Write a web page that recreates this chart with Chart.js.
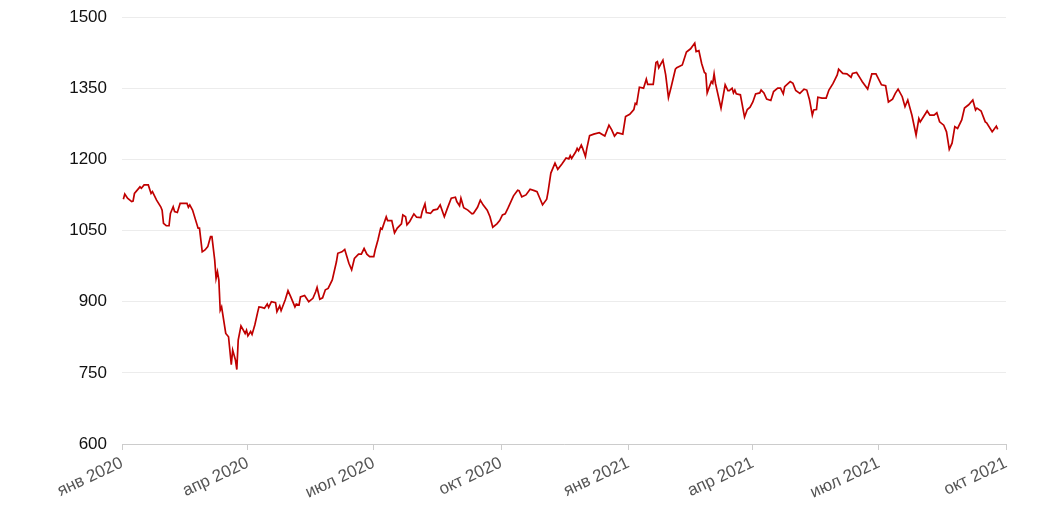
<!DOCTYPE html>
<html>
<head>
<meta charset="utf-8">
<script src="https://cdn.jsdelivr.net/npm/chart.js@4.4.0/dist/chart.umd.min.js"></script>
<style>
  body { margin: 0; background: #fff; }
</style>
</head>
<body>
<canvas id="chart" width="1050" height="517"></canvas>
<script>
// Index values (dates and closing values)
const dates = [
  '2020-01-02','2020-01-03','2020-01-05','2020-01-08','2020-01-09','2020-01-10','2020-01-14','2020-01-15','2020-01-17','2020-01-20',
  '2020-01-22','2020-01-23','2020-01-26','2020-01-29','2020-01-30','2020-01-31','2020-02-02','2020-02-04','2020-02-05','2020-02-07',
  '2020-02-08','2020-02-10','2020-02-12','2020-02-17','2020-02-18','2020-02-19','2020-02-21','2020-02-25','2020-02-26','2020-02-28',
  '2020-03-01','2020-03-03','2020-03-05','2020-03-06','2020-03-08','2020-03-09','2020-03-10','2020-03-11','2020-03-12','2020-03-13',
  '2020-03-16','2020-03-18','2020-03-20','2020-03-21','2020-03-23','2020-03-24','2020-03-25','2020-03-27','2020-03-30','2020-03-31',
  '2020-04-01','2020-04-03','2020-04-04','2020-04-06','2020-04-08','2020-04-09','2020-04-11','2020-04-13','2020-04-15','2020-04-16',
  '2020-04-18','2020-04-21','2020-04-22','2020-04-24','2020-04-25','2020-04-28','2020-04-30','2020-05-02','2020-05-05','2020-05-06',
  '2020-05-08','2020-05-09','2020-05-12','2020-05-15','2020-05-18','2020-05-20','2020-05-21','2020-05-23','2020-05-25','2020-05-27',
  '2020-05-29','2020-06-01','2020-06-04','2020-06-05','2020-06-08','2020-06-10','2020-06-13','2020-06-15','2020-06-17','2020-06-20',
  '2020-06-22','2020-06-24','2020-06-26','2020-06-28','2020-07-01','2020-07-02','2020-07-04','2020-07-06','2020-07-07','2020-07-10',
  '2020-07-11','2020-07-14','2020-07-16','2020-07-18','2020-07-21','2020-07-22','2020-07-24','2020-07-25','2020-07-27','2020-07-30',
  '2020-08-01','2020-08-04','2020-08-05','2020-08-07','2020-08-08','2020-08-11','2020-08-13','2020-08-16','2020-08-18','2020-08-21',
  '2020-08-23','2020-08-26','2020-08-29','2020-08-30','2020-09-01','2020-09-02','2020-09-04','2020-09-07','2020-09-10','2020-09-11',
  '2020-09-14','2020-09-16','2020-09-18','2020-09-21','2020-09-23','2020-09-25','2020-09-28','2020-09-30','2020-10-02','2020-10-04',
  '2020-10-06','2020-10-10','2020-10-13','2020-10-14','2020-10-16','2020-10-19','2020-10-22','2020-10-25','2020-10-27','2020-10-29',
  '2020-10-31','2020-11-03','2020-11-04','2020-11-06','2020-11-09','2020-11-11','2020-11-14','2020-11-17','2020-11-19','2020-11-20',
  '2020-11-21','2020-11-24','2020-11-25','2020-11-26','2020-11-28','2020-11-29','2020-12-01','2020-12-02','2020-12-04','2020-12-07',
  '2020-12-11','2020-12-15','2020-12-18','2020-12-20','2020-12-22','2020-12-24','2020-12-28','2020-12-30','2021-01-02','2021-01-05',
  '2021-01-06','2021-01-07','2021-01-09','2021-01-12','2021-01-14','2021-01-15','2021-01-19','2021-01-21','2021-01-22','2021-01-23',
  '2021-01-26','2021-01-28','2021-01-30','2021-02-01','2021-02-04','2021-02-05','2021-02-09','2021-02-12','2021-02-15','2021-02-18',
  '2021-02-19','2021-02-21','2021-02-23','2021-02-25','2021-02-26','2021-02-27','2021-03-02','2021-03-03','2021-03-04','2021-03-05',
  '2021-03-09','2021-03-12','2021-03-14','2021-03-15','2021-03-17','2021-03-18','2021-03-19','2021-03-20','2021-03-23','2021-03-26',
  '2021-03-28','2021-03-30','2021-04-01','2021-04-03','2021-04-06','2021-04-07','2021-04-09','2021-04-11','2021-04-14','2021-04-16',
  '2021-04-19','2021-04-21','2021-04-23','2021-04-24','2021-04-28','2021-04-30','2021-05-02','2021-05-05','2021-05-08','2021-05-10',
  '2021-05-12','2021-05-14','2021-05-15','2021-05-17','2021-05-18','2021-05-21','2021-05-24','2021-05-26','2021-05-29','2021-06-01',
  '2021-06-02','2021-06-05','2021-06-08','2021-06-11','2021-06-12','2021-06-15','2021-06-18','2021-06-19','2021-06-23','2021-06-26',
  '2021-06-29','2021-07-03','2021-07-06','2021-07-08','2021-07-11','2021-07-13','2021-07-15','2021-07-18','2021-07-20','2021-07-22',
  '2021-07-25','2021-07-28','2021-07-30','2021-07-31','2021-08-05','2021-08-07','2021-08-10','2021-08-12','2021-08-14','2021-08-17',
  '2021-08-19','2021-08-21','2021-08-23','2021-08-25','2021-08-27','2021-08-30','2021-09-01','2021-09-04','2021-09-07','2021-09-09',
  '2021-09-10','2021-09-13','2021-09-16','2021-09-17','2021-09-21','2021-09-22','2021-09-24','2021-09-25'
];

const values = [
  1116,1127,1118,1111,1112,1128,1142,1139,1146,1146,
  1128,1132,1114,1100,1093,1065,1060,1060,1086,1100,
  1090,1088,1107,1107,1099,1104,1093,1055,1055,1005,
  1009,1016,1037,1037,988,949,963,946,882,889,
  833,826,767,798,777,757,819,849,833,840,
  828,837,831,851,877,889,888,886,895,888,
  900,898,879,891,881,904,923,910,889,895,
  893,910,913,900,907,921,930,905,908,925,
  928,946,984,1002,1005,1010,981,967,991,1000,
  1000,1012,1000,995,995,1009,1030,1055,1053,1079,
  1071,1071,1045,1055,1064,1083,1079,1062,1069,1085,
  1078,1077,1090,1106,1088,1086,1093,1095,1104,1079,
  1095,1118,1120,1111,1102,1118,1098,1093,1085,1086,
  1099,1114,1104,1093,1079,1057,1064,1071,1083,1085,
  1097,1123,1135,1134,1121,1125,1137,1134,1132,1118,
  1104,1116,1132,1171,1192,1179,1190,1203,1201,1208,
  1202,1216,1223,1218,1230,1223,1206,1223,1250,1253,
  1256,1249,1272,1262,1249,1256,1253,1290,1295,1305,
  1318,1316,1352,1350,1369,1358,1358,1404,1406,1393,
  1409,1378,1330,1353,1390,1393,1399,1426,1433,1445,
  1427,1429,1402,1383,1381,1340,1364,1360,1380,1360,
  1308,1357,1345,1345,1350,1340,1346,1338,1336,1289,
  1305,1310,1321,1338,1340,1346,1340,1327,1324,1343,
  1350,1350,1338,1353,1364,1360,1345,1339,1348,1346,
  1325,1293,1304,1305,1331,1329,1329,1346,1360,1378,
  1390,1381,1380,1373,1381,1383,1369,1364,1348,1380,
  1380,1357,1355,1321,1327,1339,1348,1332,1311,1325,
  1293,1251,1286,1279,1302,1293,1293,1298,1279,1272,
  1258,1221,1234,1269,1265,1283,1308,1315,1325,1304,
  1308,1302,1279,1277,1258,1262,1270,1263
];

// Axis labels
const tickDates = ['2020-01-01','2020-04-01','2020-07-01','2020-10-01','2021-01-01','2021-04-01','2021-07-01','2021-10-01'];
const tickLabels = ['янв 2020','апр 2020','июл 2020','окт 2020','янв 2021','апр 2021','июл 2021','окт 2021'];
const yTicks = [600, 750, 900, 1050, 1200, 1350, 1500];

// day number since 1 Jan 2020
function dayNum(s) {
    const p = s.split('-').map(Number);
    return (Date.UTC(p[0], p[1] - 1, p[2]) - Date.UTC(2020, 0, 1)) / 86400000;
}

const points = dates.map((d, i) => ({ x: dayNum(d), y: values[i] }));
const tickDays = tickDates.map(dayNum);

const ctx = document.getElementById('chart').getContext('2d');
const chart = new Chart(ctx, {
    type: 'line',
    data: {
        datasets: [{
            data: points,
            borderColor: '#c00000',
            borderWidth: 1.7,
            pointRadius: 0,
            tension: 0,
            fill: false
        }]
    },
    options: {
        responsive: false,
        animation: false,
        layout: { padding: { top: 17, right: 44, left: 0, bottom: 0 } },
        plugins: {
            legend: { display: false },
            tooltip: { enabled: false }
        },
        scales: {
            x: {
                type: 'linear',
                min: tickDays[0],
                max: tickDays[tickDays.length - 1],
                afterBuildTicks: function(scale) {
                    scale.ticks = tickDays.map(v => ({ value: v }));
                },
                afterFit: function(scale) {
                    scale.height = 73;
                    scale.paddingTop = 0;
                    scale.paddingBottom = 0;
                    scale.paddingLeft = 0;
                    scale.paddingRight = 0;
                },
                grid: {
                    drawOnChartArea: false,
                    drawTicks: true,
                    tickLength: 6,
                    color: '#cccccc'
                },
                border: { display: true, color: '#cccccc' },
                ticks: {
                    autoSkip: false,
                    minRotation: 25,
                    maxRotation: 25,
                    padding: 3,
                    color: '#555555',
                    font: { family: 'Liberation Sans, Arial, sans-serif', size: 17 },
                    callback: function(value, index) { return tickLabels[index]; }
                }
            },
            y: {
                min: yTicks[0],
                max: yTicks[yTicks.length - 1],
                afterBuildTicks: function(scale) {
                    scale.ticks = yTicks.map(v => ({ value: v }));
                },
                afterFit: function(scale) {
                    scale.width = 122;
                    scale.paddingTop = 0;
                    scale.paddingBottom = 0;
                },
                grid: { color: '#ececec', drawTicks: false },
                border: { display: false },
                ticks: {
                    padding: 15,
                    color: '#111111',
                    font: { family: 'Liberation Sans, Arial, sans-serif', size: 17 },
                    callback: function(value) { return String(value); }
                }
            }
        }
    }
});
</script>
</body>
</html>
